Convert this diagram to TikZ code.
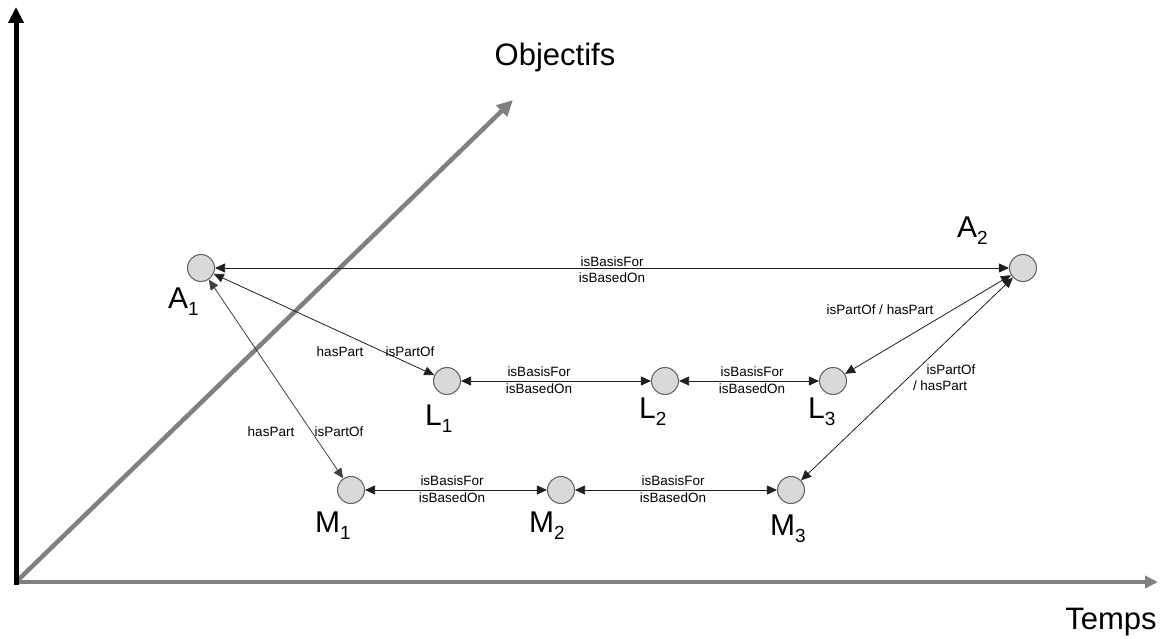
\documentclass[tikz,border=0pt]{standalone}
\usepackage{fontspec}
\setmainfont{Liberation Sans}
\usetikzlibrary{arrows.meta}
\definecolor{axgray}{HTML}{808080}
\definecolor{nodefill}{HTML}{D9D9D9}
\definecolor{nodeedge}{HTML}{666666}
\newcommand\sublab[2]{\fontsize{30}{30}\selectfont #1\raisebox{-7pt}{\fontsize{19}{19}\selectfont #2}}
\begin{document}
\begin{tikzpicture}[x=1pt,y=-1pt,
  pt/.style={circle,draw=nodeedge,fill=nodefill,line width=1.1pt,minimum size=27pt,inner sep=0pt},
  conn/.style={draw=black!88,line width=0.8pt,{Triangle[length=10pt,width=9pt]}-{Triangle[length=10pt,width=9pt]}},
  small/.style={font=\fontsize{13.5}{13.5}\selectfont,inner sep=0pt},
  nlab/.style={anchor=base west,inner sep=0pt},
  big/.style={font=\fontsize{31}{31}\selectfont,inner sep=0pt}]
\useasboundingbox (0,0) rectangle (1169,639);
% axes
\coordinate (O) at (16,582);
\coordinate (ytip) at (16,7);
\coordinate (xtip) at (1158,582);
\coordinate (dtip) at (513,100);
\draw[axgray,line width=4pt,-{Triangle[length=13pt,width=12pt]}] (O) -- (xtip);
\draw[axgray,line width=4.5pt,-{Triangle[length=16pt,width=15pt]}] (O) -- (dtip);
\draw[black,line width=5pt,-{Triangle[length=16pt,width=15pt]}] (16,585) -- (ytip);
\node[big] (obj) at (555,57) {Objectifs};
\node[big] (temps) at (1111,622) {Temps};
% nodes
\node[pt] (A1) at (201,268) {};
\node[pt] (A2) at (1023,268) {};
\node[pt] (L1) at (447,381) {};
\node[pt] (L2) at (665,381) {};
\node[pt] (L3) at (833,381) {};
\node[pt] (M1) at (351,490) {};
\node[pt] (M2) at (561,490) {};
\node[pt] (M3) at (791,490) {};
% names
\node[nlab] (tA1) at (168,308) {\sublab{A}{1}};
\node[nlab] (tA2) at (957,237) {\sublab{A}{2}};
\node[nlab] (tL1) at (425,425) {\sublab{L}{1}};
\node[nlab] (tL2) at (639,418) {\sublab{L}{2}};
\node[nlab] (tL3) at (808,418) {\sublab{L}{3}};
\node[nlab] (tM1) at (315,532) {\sublab{M}{1}};
\node[nlab] (tM2) at (529,532) {\sublab{M}{2}};
\node[nlab] (tM3) at (770,535) {\sublab{M}{3}};
% connectors
\draw[conn] (A1) -- (A2);
\draw[conn] (A1) -- (L1);
\draw[conn,draw=black!75] (A1) -- (M1);
\draw[conn] (L1) -- (L2);
\draw[conn] (L2) -- (L3);
\draw[conn] (M1) -- (M2);
\draw[conn] (M2) -- (M3);
\draw[conn] (A2) -- (L3);
\draw[conn] (A2) -- (M3);
% labels
\node[small] (e1a) at (612,262) {isBasisFor};
\node[small] (e1b) at (612,278) {isBasedOn};
\node[small] (e2a) at (340,352) {hasPart};
\node[small] (e2b) at (410,352) {isPartOf};
\node[small] (e3a) at (271,432) {hasPart};
\node[small] (e3b) at (339,432) {isPartOf};
\node[small] (e4a) at (539,372) {isBasisFor};
\node[small] (e4b) at (539,389) {isBasedOn};
\node[small] (e5a) at (752,372) {isBasisFor};
\node[small] (e5b) at (752,389) {isBasedOn};
\node[small] (e6a) at (452,481) {isBasisFor};
\node[small] (e6b) at (452,498) {isBasedOn};
\node[small] (e7a) at (673,481) {isBasisFor};
\node[small] (e7b) at (673,498) {isBasedOn};
\node[small] (e8) at (880,310) {isPartOf / hasPart};
\node[small] (e9a) at (951,370) {isPartOf};
\node[small] (e9b) at (940,386) {/ hasPart};
\end{tikzpicture}
\end{document}
